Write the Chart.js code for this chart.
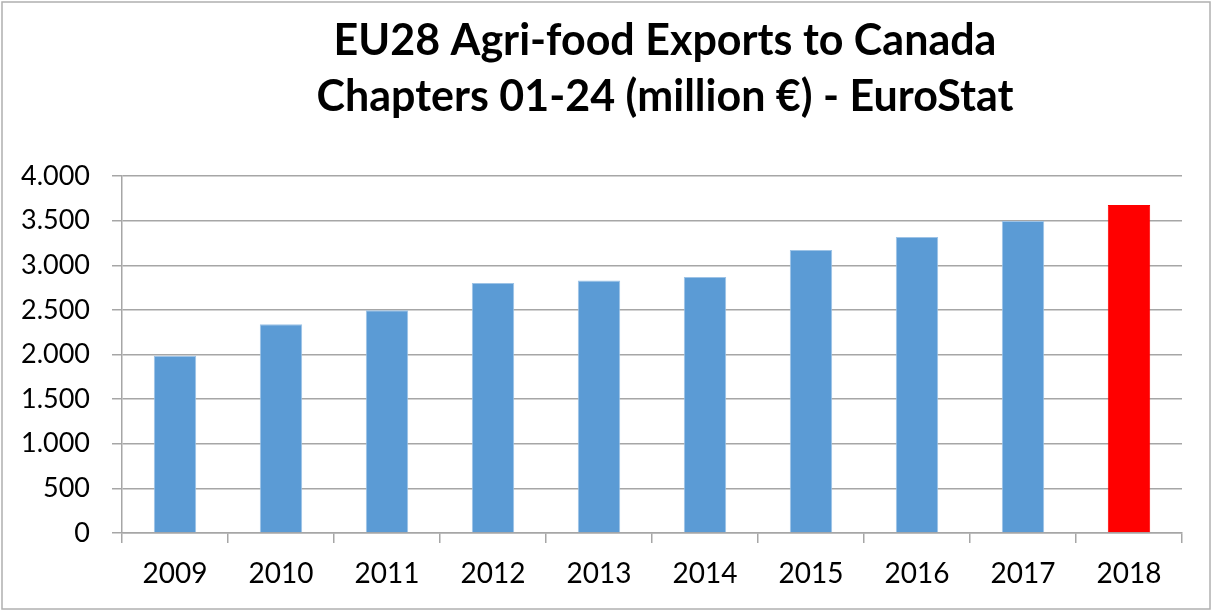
<!DOCTYPE html>
<html>
<head>
<meta charset="utf-8">
<title>EU28 Agri-food Exports to Canada</title>
<script src="https://cdn.jsdelivr.net/npm/chart.js@4/dist/chart.umd.min.js"></script>
<style>
    html, body { margin: 0; padding: 0; background: #fff; }
    .chart-box { width: 1212px; height: 610px; position: relative; }
</style>
</head>
<body>
<div class="chart-box"><canvas id="exportsChart"></canvas></div>
<script>
// Data (million €)
const years = ['2009', '2010', '2011', '2012', '2013', '2014', '2015', '2016', '2017', '2018'];
const exportValues = [1985, 2340, 2495, 2800, 2828, 2869, 3172, 3317, 3496, 3676];
const yTicks = [0, 500, 1000, 1500, 2000, 2500, 3000, 3500, 4000];
const titleLines = ['EU28 Agri-food Exports to Canada', 'Chapters 01-24 (million €) - EuroStat'];

const BLUE = '#5b9bd5';
const RED = '#ff0000';
const GRID = '#a6a6a6';
const FONT = 'Lato, "Open Sans", sans-serif';

// last year is highlighted in red
const barColors = years.map((y, i) => i === years.length - 1 ? RED : BLUE);
const barEdges = years.map((y, i) => i === years.length - 1 ? RED : '#9dc3e6');

const formatThousands = (v) => String(v).replace(/\B(?=(\d{3})+(?!\d))/g, '.');

// White background, thin grey frame and the two-line title
// (the spreadsheet centres the title a bit right of the canvas centre)
const framePlugin = {
    id: 'frame',
    beforeDraw(chart) {
        const { ctx, width, height } = chart;
        ctx.save();
        ctx.fillStyle = '#fff';
        ctx.fillRect(0, 0, width, height);
        ctx.restore();
    },
    afterDraw(chart) {
        const { ctx, width, height } = chart;
        ctx.save();
        ctx.strokeStyle = '#b0b0b0';
        ctx.lineWidth = 1.5;
        ctx.strokeRect(2, 2, width - 4, height - 3);

        ctx.fillStyle = '#000';
        ctx.font = 'bold 43px ' + FONT;
        ctx.textAlign = 'center';
        ctx.textBaseline = 'alphabetic';
        ctx.fillText(titleLines[0], 665, 55);
        ctx.fillText(titleLines[1], 665, 111);
        ctx.restore();
    }
};

new Chart(document.getElementById('exportsChart').getContext('2d'), {
    type: 'bar',
    data: {
        labels: years,
        datasets: [{
            data: exportValues,
            backgroundColor: barColors,
            borderColor: barEdges,
            borderWidth: 1,
            barPercentage: 0.4,
            categoryPercentage: 1
        }]
    },
    options: {
        responsive: true,
        maintainAspectRatio: false,
        animation: false,
        layout: { padding: { left: 0, right: 30, top: 176, bottom: 0 } },
        plugins: {
            legend: { display: false },
            tooltip: { enabled: false },
            title: { display: false }
        },
        scales: {
            x: {
                grid: {
                    display: true,
                    drawOnChartArea: false,
                    drawTicks: true,
                    tickLength: 10,
                    color: GRID,
                    lineWidth: 1.5
                },
                border: { display: true, color: GRID, width: 1.5 },
                ticks: {
                    color: '#000',
                    font: { family: FONT, size: 28 },
                    padding: 14,
                    maxRotation: 0
                },
                afterFit(scale) { scale.height = 77; }
            },
            y: {
                min: 0,
                max: 4000,
                afterBuildTicks(scale) {
                    scale.ticks = yTicks.map(v => ({ value: v }));
                },
                grid: {
                    color: GRID,
                    lineWidth: 1.5,
                    tickLength: 10
                },
                border: { display: true, color: GRID, width: 1.5 },
                ticks: {
                    color: '#000',
                    font: { family: FONT, size: 27 },
                    padding: 22,
                    callback: (v) => formatThousands(v)
                },
                afterFit(scale) { scale.width = 122; }
            }
        }
    },
    plugins: [framePlugin]
});
</script>
</body>
</html>
